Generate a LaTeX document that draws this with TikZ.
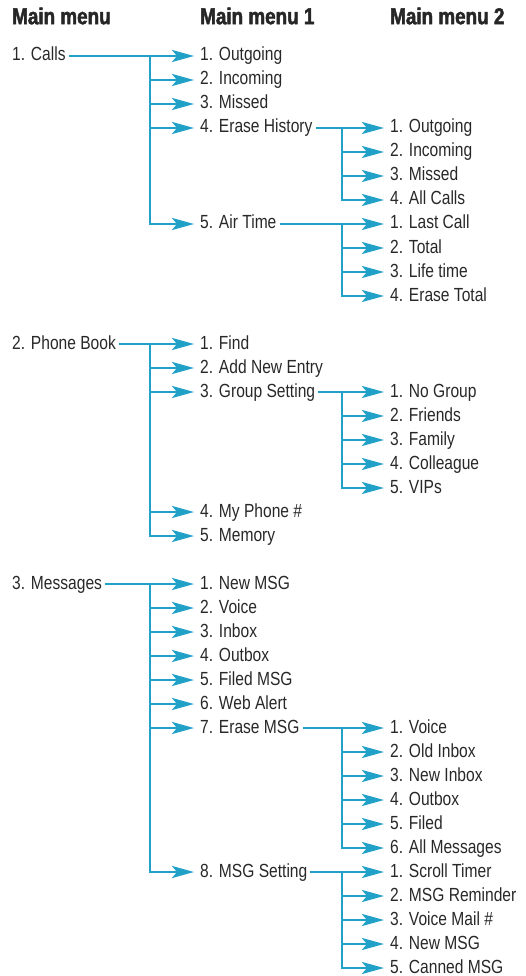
\documentclass[tikz,border=0pt]{standalone}
\usepackage{fontspec}
\setmainfont{Liberation Sans}[FakeStretch=0.82]
\newfontfamily\headfont{Liberation Sans}[FakeStretch=0.82, FakeBold=2]
\usetikzlibrary{arrows.meta}
\definecolor{menublue}{RGB}{33,160,200}
\definecolor{menutext}{RGB}{40,40,40}

\begin{document}
\begin{tikzpicture}[x=1pt, y=-1pt]
    \tikzstyle{item} = [anchor=west, inner sep=3pt, text=menutext, font=\fontsize{19}{19}\selectfont, text height=14pt, text depth=4pt]
    \tikzstyle{head} = [anchor=west, inner sep=0pt, text=black!85, font=\headfont\bfseries\fontsize{23}{23}\selectfont]
    \tikzstyle{link} = [menublue, line width=2.8pt, shorten >=3pt, -{Stealth[length=22pt, width=12pt, inset=5pt]}]

    \useasboundingbox (0,0) rectangle (525,976);

    % column headers
    \node[head] (h0) at (12, 16) {Main menu};
    \node[head] (h1) at (200, 16) {Main menu 1};
    \node[head] (h2) at (390, 16) {Main menu 2};

    % 1. Calls
    \node[item] (calls) at (9, 56) {1. Calls};
    \node[item] (out) at (197, 56) {1. Outgoing};
    \node[item] (inc) at (197, 80) {2. Incoming};
    \node[item] (mis) at (197, 104) {3. Missed};
    \node[item] (erh) at (197, 128) {4. Erase History};
    \node[item] (air) at (197, 224) {5. Air Time};
    \node[item] (eOut) at (387, 128) {1. Outgoing};
    \node[item] (eInc) at (387, 152) {2. Incoming};
    \node[item] (eMis) at (387, 176) {3. Missed};
    \node[item] (eAll) at (387, 200) {4. All Calls};
    \node[item] (aLast) at (387, 224) {1. Last Call};
    \node[item] (aTot) at (387, 248) {2. Total};
    \node[item] (aLife) at (387, 272) {3. Life time};
    \node[item] (aErase) at (387, 296) {4. Erase Total};

    \coordinate (callsT) at (150, 56);
    \coordinate (erhT) at (342, 128);
    \coordinate (airT) at (342, 224);

    \draw[link] (calls) -- (out);
    \draw[link] (callsT) |- (inc);
    \draw[link] (callsT) |- (mis);
    \draw[link] (callsT) |- (erh);
    \draw[link] (callsT) |- (air);
    \draw[link] (erh) -- (eOut);
    \draw[link] (erhT) |- (eInc);
    \draw[link] (erhT) |- (eMis);
    \draw[link] (erhT) |- (eAll);
    \draw[link] (air) -- (aLast);
    \draw[link] (airT) |- (aTot);
    \draw[link] (airT) |- (aLife);
    \draw[link] (airT) |- (aErase);

    % 2. Phone Book
    \node[item] (book) at (9, 344) {2. Phone Book};
    \node[item] (find) at (197, 344) {1. Find};
    \node[item] (add) at (197, 368) {2. Add New Entry};
    \node[item] (grp) at (197, 392) {3. Group Setting};
    \node[item] (myph) at (197, 512) {4. My Phone \#};
    \node[item] (mem) at (197, 536) {5. Memory};
    \node[item] (gNo) at (387, 392) {1. No Group};
    \node[item] (gFri) at (387, 416) {2. Friends};
    \node[item] (gFam) at (387, 440) {3. Family};
    \node[item] (gCol) at (387, 464) {4. Colleague};
    \node[item] (gVip) at (387, 488) {5. VIPs};

    \coordinate (bookT) at (150, 344);
    \coordinate (grpT) at (342, 392);

    \draw[link] (book) -- (find);
    \draw[link] (bookT) |- (add);
    \draw[link] (bookT) |- (grp);
    \draw[link] (bookT) |- (myph);
    \draw[link] (bookT) |- (mem);
    \draw[link] (grp) -- (gNo);
    \draw[link] (grpT) |- (gFri);
    \draw[link] (grpT) |- (gFam);
    \draw[link] (grpT) |- (gCol);
    \draw[link] (grpT) |- (gVip);

    % 3. Messages
    \node[item] (msgs) at (9, 584) {3. Messages};
    \node[item] (new) at (197, 584) {1. New MSG};
    \node[item] (voice) at (197, 608) {2. Voice};
    \node[item] (inbox) at (197, 632) {3. Inbox};
    \node[item] (outbox) at (197, 656) {4. Outbox};
    \node[item] (filed) at (197, 680) {5. Filed MSG};
    \node[item] (web) at (197, 704) {6. Web Alert};
    \node[item] (erm) at (197, 728) {7. Erase MSG};
    \node[item] (set) at (197, 872) {8. MSG Setting};
    \node[item] (mVoice) at (387, 728) {1. Voice};
    \node[item] (mOld) at (387, 752) {2. Old Inbox};
    \node[item] (mNew) at (387, 776) {3. New Inbox};
    \node[item] (mOut) at (387, 800) {4. Outbox};
    \node[item] (mFiled) at (387, 824) {5. Filed};
    \node[item] (mAll) at (387, 848) {6. All Messages};
    \node[item] (sScroll) at (387, 872) {1. Scroll Timer};
    \node[item] (sRem) at (387, 896) {2. MSG Reminder};
    \node[item] (sVm) at (387, 920) {3. Voice Mail \#};
    \node[item] (sNew) at (387, 944) {4. New MSG};
    \node[item] (sCan) at (387, 968) {5. Canned MSG};

    \coordinate (msgsT) at (150, 584);
    \coordinate (ermT) at (342, 728);
    \coordinate (setT) at (342, 872);

    \draw[link] (msgs) -- (new);
    \draw[link] (msgsT) |- (voice);
    \draw[link] (msgsT) |- (inbox);
    \draw[link] (msgsT) |- (outbox);
    \draw[link] (msgsT) |- (filed);
    \draw[link] (msgsT) |- (web);
    \draw[link] (msgsT) |- (erm);
    \draw[link] (msgsT) |- (set);
    \draw[link] (erm) -- (mVoice);
    \draw[link] (ermT) |- (mOld);
    \draw[link] (ermT) |- (mNew);
    \draw[link] (ermT) |- (mOut);
    \draw[link] (ermT) |- (mFiled);
    \draw[link] (ermT) |- (mAll);
    \draw[link] (set) -- (sScroll);
    \draw[link] (setT) |- (sRem);
    \draw[link] (setT) |- (sVm);
    \draw[link] (setT) |- (sNew);
    \draw[link] (setT) |- (sCan);
\end{tikzpicture}
\end{document}
